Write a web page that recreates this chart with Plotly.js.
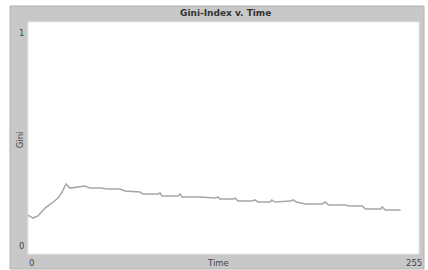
<!DOCTYPE html>
<html>
<head>
<meta charset="utf-8">
<script src="https://cdn.plot.ly/plotly-3.0.1.min.js"></script>
<style>
  html, body { margin: 0; padding: 0; background: #ffffff; }
  #chart { width: 428px; height: 270px; }
</style>
</head>
<body>
<div id="chart"></div>
<script>
// Data
var timeSteps = [0, 3.3, 6.5, 11.1, 15.7, 19.6, 22.2, 24.8, 27.4, 32.6, 37.2, 40.4, 47, 52.2, 60, 63.3, 73, 75, 84.8, 86.1, 87.4, 97.8, 99.1, 100.4, 112, 122, 124, 125, 134, 135, 137, 146, 148, 150, 158, 159, 161, 171, 173, 175, 181, 192, 194, 196, 207, 209, 218, 220, 230, 231, 233, 243];
var giniValues = [0.168, 0.155, 0.164, 0.198, 0.220, 0.241, 0.267, 0.302, 0.284, 0.289, 0.293, 0.284, 0.284, 0.280, 0.280, 0.272, 0.267, 0.259, 0.259, 0.263, 0.250, 0.250, 0.259, 0.246, 0.246, 0.241, 0.246, 0.237, 0.237, 0.241, 0.228, 0.228, 0.233, 0.224, 0.224, 0.233, 0.224, 0.228, 0.233, 0.224, 0.216, 0.216, 0.224, 0.211, 0.211, 0.207, 0.207, 0.194, 0.194, 0.203, 0.190, 0.190];
var xTickLabels = ["0", "255"];
var yTickLabels = ["0", "1"];
var titleText = "Gini-Index v. Time";
var xTitle = "Time";
var yTitle = "Gini";

var font = "DejaVu Sans, Liberation Sans, sans-serif";
var textColor = "#444444";

var trace = {
  x: timeSteps,
  y: giniValues,
  type: "scatter",
  mode: "lines",
  line: { color: "#a6a6a6", width: 1.5 },
  hoverinfo: "skip"
};

var annotations = [
  { text: "<b>" + titleText + "</b>", xref: "paper", yref: "paper", x: 0.506, y: 1, yanchor: "bottom", xanchor: "center", yshift: 2, showarrow: false, font: { family: font, size: 9, color: "#333" } },
  { text: xTickLabels[0], xref: "x", yref: "paper", x: 0, y: 0, xanchor: "left", yanchor: "top", xshift: -1, yshift: -2, showarrow: false, font: { family: font, size: 8.5, color: textColor } },
  { text: xTickLabels[1], xref: "x", yref: "paper", x: 255, y: 0, xanchor: "right", yanchor: "top", xshift: 5, yshift: -2, showarrow: false, font: { family: font, size: 8.5, color: textColor } },
  { text: yTickLabels[0], xref: "paper", yref: "y", x: 0, y: 0, xanchor: "right", yanchor: "bottom", xshift: -2, yshift: 1, showarrow: false, font: { family: font, size: 8.5, color: textColor } },
  { text: yTickLabels[1], xref: "paper", yref: "y", x: 0, y: 1, xanchor: "right", yanchor: "top", xshift: -2, yshift: -4, showarrow: false, font: { family: font, size: 8.5, color: textColor } },
  { text: xTitle, xref: "paper", yref: "paper", x: 0.486, y: 0, xanchor: "center", yanchor: "top", yshift: -2, showarrow: false, font: { family: font, size: 8.5, color: textColor } },
  { text: yTitle, xref: "paper", yref: "paper", x: 0, y: 0.49, xanchor: "center", yanchor: "middle", xshift: -8, textangle: -90, showarrow: false, font: { family: font, size: 8.5, color: textColor } }
];

var layout = {
  width: 428,
  height: 270,
  margin: { l: 28, r: 9, t: 22, b: 16, pad: 0 },
  paper_bgcolor: "#ffffff",
  plot_bgcolor: "#ffffff",
  showlegend: false,
  xaxis: { range: [0, 255], showgrid: false, zeroline: false, showticklabels: false, ticks: "", showline: false, fixedrange: true },
  yaxis: { range: [0, 1], showgrid: false, zeroline: false, showticklabels: false, ticks: "", showline: false, fixedrange: true },
  shapes: [
    { type: "rect", xref: "paper", yref: "paper", x0: -0.046, x1: 1.0128, y0: -0.0647, y1: 1.069, fillcolor: "#c8c8c8", line: { color: "#b4b4b4", width: 1 }, layer: "below" },
    { type: "rect", xref: "paper", yref: "paper", x0: 0, x1: 1, y0: 0, y1: 1, fillcolor: "#ffffff", line: { color: "#e8e8e8", width: 1 }, layer: "below" }
  ],
  annotations: annotations
};

Plotly.newPlot("chart", [trace], layout, { staticPlot: true, displayModeBar: false });
</script>
</body>
</html>
